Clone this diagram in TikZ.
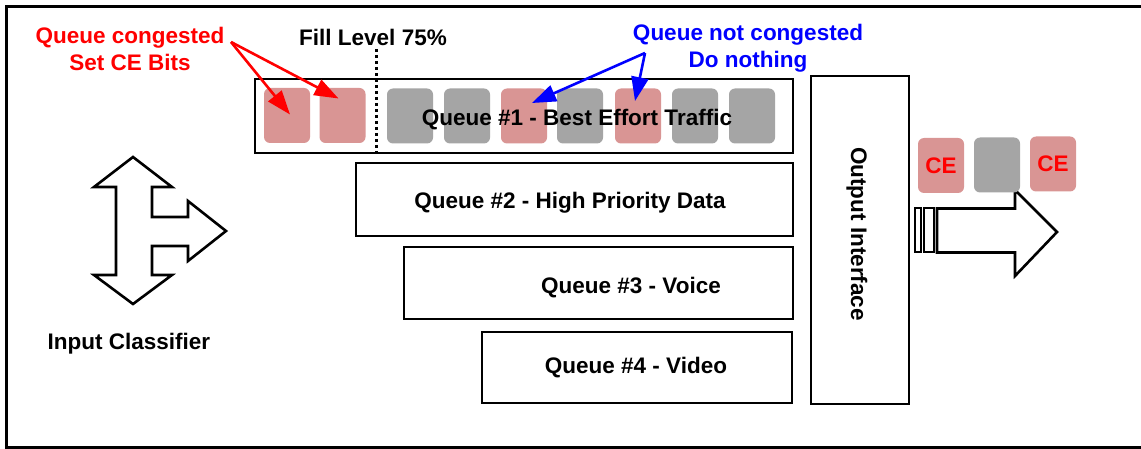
\documentclass[tikz,border=0pt]{standalone}
\usepackage{fontspec}
\setmainfont{Liberation Sans}
\usetikzlibrary{arrows.meta,calc}
\definecolor{ceRed}{HTML}{D99594}
\definecolor{pktGray}{HTML}{A5A5A5}
\tikzset{
  px/.style={x=1pt,y=-1pt},
  outline/.style={draw=black,line width=2.6pt,line join=miter},
  queuebox/.style={draw=black,line width=2.6pt,fill=white,inner sep=0pt},
  lbl/.style={font=\fontsize{22.5}{27}\selectfont\bfseries,inner sep=0pt,align=center},
  pkt/.style={rounded corners=6pt,inner sep=0pt,minimum width=46pt,minimum height=55pt},
  redpkt/.style={pkt,fill=ceRed},
  graypkt/.style={pkt,fill=pktGray},
  callout/.style={line width=2.6pt,-{Triangle[length=24pt,width=17pt]}},
}
\begin{document}
\begin{tikzpicture}[px]
\useasboundingbox (0,0) rectangle (1141,449);
% frame (open on the right)
\draw[line width=2.6pt] (1141,6.5) -- (6.5,6.5) -- (6.5,447.5) -- (1141,447.5);

% queue boxes
\node[queuebox,minimum width=538pt,minimum height=74pt] (q1) at (524,116) {};
\node[queuebox,minimum width=437pt,minimum height=73pt] (q2) at (574.5,199.5) {};
\node[queuebox,minimum width=389pt,minimum height=72pt] (q3) at (598.5,283) {};
\node[queuebox,minimum width=310pt,minimum height=71pt] (q4) at (637,367.5) {};

% packets in queue 1
\node[redpkt]  (r1) at (287,115.5) {};
\node[redpkt]  (r2) at (342.5,115.5) {};
\node[graypkt] (g1) at (410,116) {};
\node[graypkt] (g2) at (467,116) {};
\node[redpkt]  (r3) at (524,116) {};
\node[graypkt] (g3) at (580,116) {};
\node[redpkt]  (r4) at (638,116) {};
\node[graypkt] (g4) at (695,116) {};
\node[graypkt] (g5) at (752,116) {};

\node[lbl] (q1t) at (577,120) {Queue \#1 - Best Effort Traffic};
\node[lbl] (q2t) at (570,202.5) {Queue \#2 - High Priority Data};
\node[lbl] (q3t) at (631,288) {Queue \#3 - Voice};
\node[lbl] (q4t) at (636,368) {Queue \#4 - Video};

% fill level marker
\node[lbl] (fill) at (373,37) {Fill Level 75\%};
\coordinate (dtop) at (376,49);
\draw[line width=3pt,dash pattern=on 3pt off 3pt] (dtop) -- (dtop |- q1.south);

% callouts
\node[lbl,text=red] (cong) at (130,49) {Queue congested\\Set CE Bits};
\node[lbl,text=blue] (ncong) at (748,48.5) {Queue not congested\\Do nothing};
\coordinate (ra) at (231,42);
\coordinate (ba) at (645,53);
\draw[callout,red] (ra) -- ($(r1.center)+(3,-1)$);
\draw[callout,red] (ra) -- ($(r2.center)+(-4,-17)$);
\draw[callout,blue] (ba) -- ($(r3.center)+(8,-13)$);
\draw[callout,blue] (ba) -- ($(r4.center)+(-3,-15)$);

% input classifier arrow
\draw[outline,fill=white] (133,157) -- (172,187) -- (152,187) -- (152,217) -- (188,217)
  -- (188,201) -- (226,231) -- (188,261) -- (188,246) -- (152,246) -- (152,275)
  -- (172,275) -- (133,304) -- (94,275) -- (116,275) -- (116,187) -- (94,187) -- cycle;
\node[lbl] (incl) at (129,344) {Input Classifier};

% output interface
\node[queuebox,minimum width=98pt,minimum height=328pt] (oi) at (860,240) {};
\node[lbl,rotate=-90] (oit) at (857,234) {Output Interface};

% outgoing arrow
\draw[line width=2pt] (914.5,208.5) rectangle (920.5,252.5);
\draw[line width=2pt] (924,208.5) rectangle (934,252.5);
\draw[outline,fill=white] (937,208.5) -- (1015,208.5) -- (1015,190) -- (1057,232)
  -- (1015,276) -- (1015,252.5) -- (937,252.5) -- cycle;

% departing packets
\node[redpkt,text=red,font=\fontsize{22.5}{26}\selectfont\bfseries] (o1) at (941,165.5) {CE};
\node[graypkt] (o2) at (997,165) {};
\node[redpkt,text=red,font=\fontsize{22.5}{26}\selectfont\bfseries] (o3) at (1053,164) {CE};
\end{tikzpicture}
\end{document}
